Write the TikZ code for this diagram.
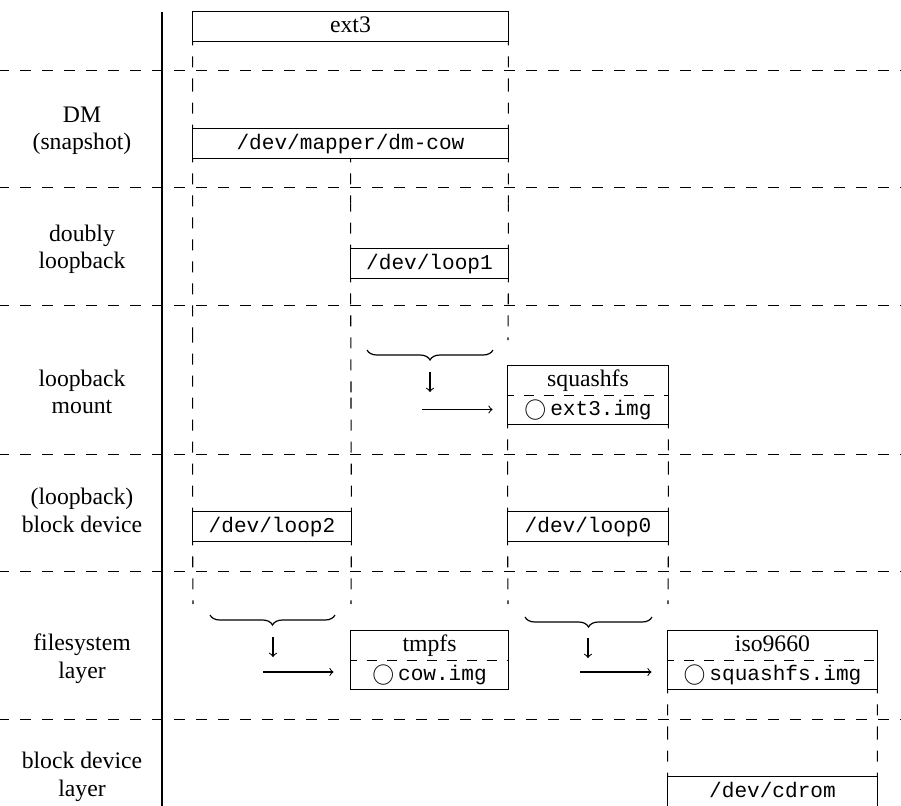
\documentclass[tikz,border=0pt]{standalone}
\usepackage{fontspec}
\setmainfont{Liberation Serif}
\setmonofont{Liberation Mono}[Scale=0.89]
\usetikzlibrary{calc,decorations.pathreplacing}
% small circle marking a file inside a filesystem
\newcommand\fileicon{{\fontsize{10.5}{12}\selectfont$\bigcirc$}}
% dashed guide between two points, dashes anchored at both ends
\newcommand\vlink[2]{%
  \draw[vdash] (#1) -- ($(#1)!0.5!(#2)$);
  \draw[vdash] (#2) -- ($(#1)!0.5!(#2)$);}
\begin{document}
\begin{tikzpicture}[x=0.5pt,y=-0.5pt,
  font=\fontsize{11.85}{13.85}\selectfont,
  cell/.style={rectangle, inner sep=0pt, minimum height=14.5pt,
    text height=8pt, text depth=2.5pt},
  lbl/.style={align=center, inner sep=0pt},
  frame/.style={line width=0.6pt},
  hsep/.style={line width=0.5pt, dash pattern=on 5.5pt off 5.5pt, dash phase=1pt},
  innersep/.style={line width=0.5pt, dash pattern=on 5pt off 5pt, dash phase=2pt},
  vdash/.style={line width=0.55pt, dash pattern=on 5.5pt off 5.5pt, dash phase=3.5pt},
  brace/.style={decorate, decoration={brace, amplitude=5pt}, line width=0.6pt},
  arr/.style={->, line width=0.55pt}]
\useasboundingbox (0,0) rectangle (901,805);

% layer separators and the label column rule
\foreach \yy in {70,187,305,454,571,719}
  \draw[hsep] (0,\yy) -- (901,\yy);
\draw[frame] (162,12) -- (162,812);

% layer labels
\node[lbl] (lDM)   at (82,130.5) {\strut DM\\\strut(snapshot)};
\node[lbl] (lDbl)  at (82,249.6) {\strut doubly\\\strut loopback};
\node[lbl] (lMnt)  at (82,394.6) {\strut loopback\\\strut mount};
\node[lbl] (lBlk)  at (82,512.6) {\strut(loopback)\\\strut block device};
\node[lbl] (lFs)   at (82,658.6) {\strut filesystem\\\strut layer};
\node[lbl] (lDev)  at (82,776.6) {\strut block device\\\strut layer};

% devices and filesystems
\node[cell, minimum width=157.5pt] (ext3)  at (350.5,26.5)  {ext3};
\node[cell, minimum width=157.5pt] (dmcow) at (350.5,143.5) {\texttt{/dev/mapper/dm-cow}};
\node[cell, minimum width=78.5pt]  (loop1) at (429.5,263.5) {\texttt{/dev/loop1}};
\node[cell, minimum width=80pt]    (sqhi)  at (588,380.5)   {squashfs};
\node[cell, minimum width=80pt]    (sqlo)  at (588,409.5)   {\fileicon\,\texttt{ext3.img}};
\node[cell, minimum width=79pt]    (loop2) at (272,526.5)   {\texttt{/dev/loop2}};
\node[cell, minimum width=80pt]    (loop0) at (588,526.5)   {\texttt{/dev/loop0}};
\node[cell, minimum width=78.5pt]  (tmphi) at (429.5,645.5) {tmpfs};
\node[cell, minimum width=78.5pt]  (tmplo) at (429.5,674.5) {\fileicon\,\texttt{cow.img}};
\node[cell, minimum width=104.5pt] (isohi) at (772.5,645.5) {iso9660};
\node[cell, minimum width=104.5pt] (isolo) at (772.5,674.5) {\fileicon\,\texttt{squashfs.img}};
\node[cell, minimum width=104.5pt] (cdrom) at (772.5,791.5) {\texttt{/dev/cdrom}};

% frames
\foreach \n in {ext3,dmcow,loop1,loop2,loop0,cdrom}
  \draw[frame] (\n.north west) rectangle (\n.south east);
\foreach \a/\b in {sqhi/sqlo,tmphi/tmplo,isohi/isolo}{
  \draw[frame] (\a.north west) rectangle (\b.south east);
  \draw[innersep] (\a.south west) -- (\a.south east);}

% dashed guides between stacked devices
\coordinate (c1) at (loop1.north west |- dmcow.south);
\vlink{ext3.south west}{dmcow.north west}
\vlink{ext3.south east}{dmcow.north east}
\vlink{dmcow.south west}{loop2.north west}
\vlink{c1}{loop1.north west}
\vlink{dmcow.south east}{loop1.north east}
\vlink{loop1.south west}{loop2.north east}
\vlink{sqlo.south west}{loop0.north west}
\vlink{sqlo.south east}{loop0.north east}
\vlink{isolo.south west}{cdrom.north west}
\vlink{isolo.south east}{cdrom.north east}

\coordinate (e1) at (508,340);
\coordinate (e2) at (193,604);
\coordinate (e3) at (351,604);
\coordinate (e4) at (508,604);
\coordinate (e5) at (668,604);
\draw[vdash] (loop1.south east) -- (e1);
\draw[vdash] (loop2.south west) -- (e2);
\draw[vdash] (loop2.south east) -- (e3);
\draw[vdash] (loop0.south west) -- (e4);
\draw[vdash] (loop0.south east) -- (e5);

% braces: a device stored as a file on the filesystem beside it
\draw[brace] (493,350) -- (367,350);
\coordinate (d1a) at (430,372);
\coordinate (d1b) at (430,392);
\coordinate (r1a) at (422,409.5);
\draw[arr] (d1a) -- (d1b);
\draw[arr, shorten >=7.5pt] (r1a) -- (sqlo.west);

\draw[brace] (335,615) -- (210,615);
\coordinate (d2a) at (273,637);
\coordinate (d2b) at (273,657);
\coordinate (r2a) at (263,672);
\draw[arr] (d2a) -- (d2b);
\draw[arr, shorten >=8.5pt] (r2a) -- (r2a -| tmplo.west);

\draw[brace] (652,617) -- (525,617);
\coordinate (d3a) at (588,638);
\coordinate (d3b) at (588,658);
\coordinate (r3a) at (580,672);
\draw[arr] (d3a) -- (d3b);
\draw[arr, shorten >=8pt] (r3a) -- (r3a -| isolo.west);
\end{tikzpicture}
\end{document}
